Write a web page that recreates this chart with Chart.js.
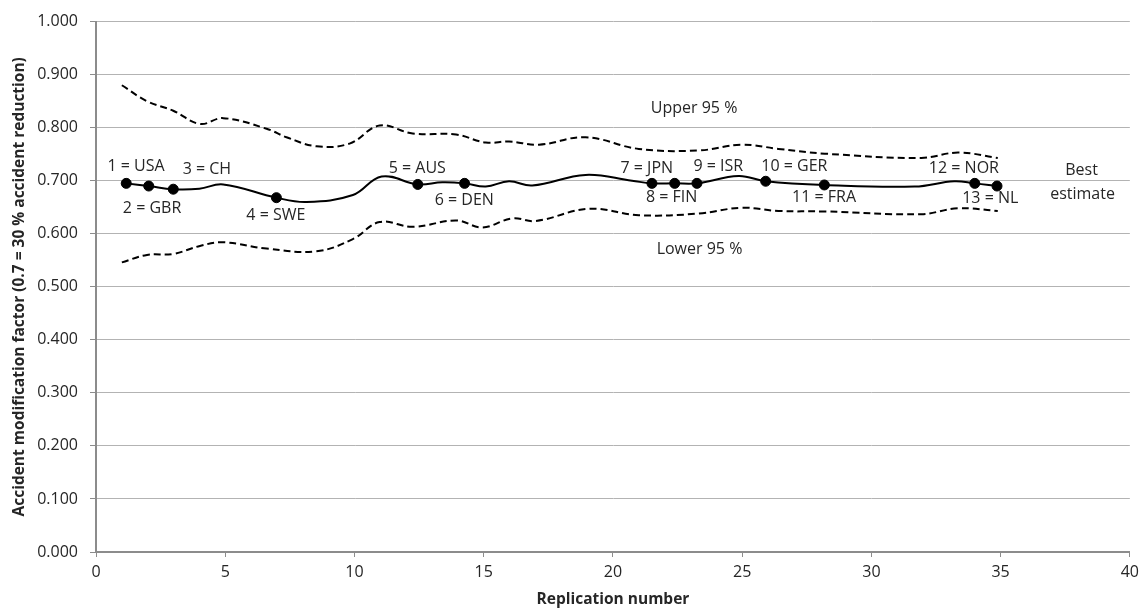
<!DOCTYPE html>
<html>
<head>
<meta charset="utf-8">
<script src="https://cdn.jsdelivr.net/npm/chart.js@4.4.1/dist/chart.umd.min.js"></script>
<style>
html,body{margin:0;padding:0;background:#fff;}
#wrap{width:1145px;height:609px;position:relative;}
</style>
</head>
<body>
<div id="wrap"><canvas id="c" width="1145" height="609"></canvas></div>
<script>
// Best estimate curve (smoothed)
const bestX = [1.17, 2.04, 2.99, 4.0, 4.92, 6.98, 8.14, 9.94, 11.05, 12.45, 13.4, 14.26, 15.08, 15.98, 16.88, 18.94, 20.74, 21.51, 22.39, 23.25, 24.86, 25.91, 28.18, 31.67, 33.2, 34.0, 34.86];
const bestY = [0.695, 0.690, 0.684, 0.685, 0.693, 0.668, 0.660, 0.673, 0.708, 0.693, 0.697, 0.695, 0.689, 0.699, 0.691, 0.711, 0.700, 0.695, 0.695, 0.695, 0.709, 0.699, 0.692, 0.689, 0.699, 0.695, 0.690];

// Country markers
const countryNames = ["1 = USA", "2 = GBR", "3 = CH", "4 = SWE", "5 = AUS", "6 = DEN", "7 = JPN", "8 = FIN", "9 = ISR", "10 = GER", "11 = FRA", "12 = NOR", "13 = NL"];
const countryX = [1.17, 2.04, 2.99, 6.98, 12.45, 14.26, 21.51, 22.39, 23.25, 25.91, 28.18, 34.0, 34.86];
const countryY = [0.695, 0.690, 0.684, 0.668, 0.693, 0.695, 0.695, 0.695, 0.695, 0.699, 0.692, 0.695, 0.690];

// Upper 95 %
const upperX = [1.0, 1.97, 2.99, 4.02, 4.92, 6.6, 7.37, 8.53, 9.81, 10.97, 12.25, 13.93, 15.08, 15.98, 17.14, 18.94, 21.0, 23.31, 24.98, 26.4, 28.2, 31.93, 33.35, 34.89];
const upperY = [0.880, 0.850, 0.832, 0.807, 0.818, 0.798, 0.782, 0.765, 0.770, 0.804, 0.789, 0.787, 0.772, 0.774, 0.768, 0.782, 0.760, 0.757, 0.768, 0.760, 0.751, 0.743, 0.753, 0.743];

// Lower 95 %
const lowerX = [1.0, 1.97, 2.99, 4.02, 4.92, 6.6, 8.53, 9.94, 10.97, 12.25, 13.93, 14.95, 16.11, 17.01, 19.07, 21.0, 23.31, 24.98, 26.4, 28.2, 31.93, 33.35, 34.89];
const lowerY = [0.546, 0.560, 0.562, 0.577, 0.584, 0.572, 0.567, 0.590, 0.622, 0.613, 0.625, 0.612, 0.629, 0.624, 0.647, 0.635, 0.638, 0.649, 0.643, 0.642, 0.637, 0.648, 0.643];

// Text labels placed in data coordinates
const noteText = ["1 = USA", "2 = GBR", "3 = CH", "4 = SWE", "5 = AUS", "6 = DEN", "7 = JPN", "8 = FIN", "9 = ISR", "10 = GER", "11 = FRA", "12 = NOR", "13 = NL", "Best", "estimate", "Upper 95 %", "Lower 95 %"];
const noteX = [1.55, 2.17, 4.29, 6.96, 12.43, 14.25, 21.31, 22.27, 24.08, 27.02, 28.17, 33.58, 34.6, 38.13, 38.17, 23.14, 23.35];
const noteY = [0.726, 0.648, 0.721, 0.634, 0.724, 0.662, 0.724, 0.668, 0.727, 0.727, 0.668, 0.724, 0.666, 0.719, 0.675, 0.837, 0.570];

const xTitle = "Replication number";
const yTitle = "Accident modification factor (0.7 = 30 % accident reduction)";

const FONT = "'Open Sans', 'DejaVu Sans', sans-serif";
const TXT = '#262626';

const zip = (xs, ys) => xs.map((x, i) => ({x: x, y: ys[i]}));

const notesPlugin = {
  id: 'notes',
  afterDatasetsDraw(chart) {
    const ctx = chart.ctx;
    const xs = chart.scales.x, ys = chart.scales.y;
    ctx.save();
    ctx.font = "16px " + FONT;
    ctx.fillStyle = TXT;
    ctx.textAlign = 'center';
    ctx.textBaseline = 'middle';
    noteText.forEach((t, i) => {
      ctx.fillText(t, xs.getPixelForValue(noteX[i]), ys.getPixelForValue(noteY[i]));
    });
    ctx.restore();
  }
};

new Chart(document.getElementById('c'), {
  type: 'line',
  data: {
    datasets: [
      {
        label: 'Best estimate',
        data: zip(bestX, bestY),
        borderColor: '#000',
        borderWidth: 2,
        pointRadius: 0,
        tension: 0.4,
        fill: false
      },
      {
        label: 'Countries',
        data: zip(countryX, countryY),
        showLine: false,
        pointRadius: 5,
        pointBackgroundColor: '#000',
        pointBorderColor: '#000',
        borderColor: '#000'
      },
      {
        label: 'Upper 95 %',
        data: zip(upperX, upperY),
        borderColor: '#000',
        borderWidth: 2,
        borderDash: [7, 4],
        pointRadius: 0,
        tension: 0.4,
        fill: false
      },
      {
        label: 'Lower 95 %',
        data: zip(lowerX, lowerY),
        borderColor: '#000',
        borderWidth: 2,
        borderDash: [7, 4],
        pointRadius: 0,
        tension: 0.4,
        fill: false
      }
    ]
  },
  options: {
    responsive: false,
    animation: false,
    events: [],
    layout: { padding: { left: 0, right: 14, top: 19, bottom: 0 } },
    plugins: {
      legend: { display: false },
      tooltip: { enabled: false }
    },
    scales: {
      x: {
        type: 'linear',
        min: 0, max: 40,
        afterFit(s) { s.height = 57; },
        ticks: {
          stepSize: 5,
          padding: 6,
          color: TXT,
          font: { family: FONT, size: 16 }
        },
        grid: {
          drawOnChartArea: false,
          drawTicks: true,
          tickLength: 5,
          color: '#8c8c8c',
          tickColor: '#8c8c8c'
        },
        border: { color: '#8c8c8c', width: 2 },
        title: {
          display: true,
          text: xTitle,
          color: TXT,
          font: { family: FONT, size: 15.5, weight: 'bold' },
          padding: { top: 0, bottom: 0 }
        }
      },
      y: {
        type: 'linear',
        min: 0, max: 1,
        afterFit(s) { s.width = 96; },
        ticks: {
          stepSize: 0.1,
          padding: 12,
          color: TXT,
          font: { family: FONT, size: 16 },
          callback: v => Number(v).toFixed(3)
        },
        grid: {
          color: '#b3b3b3',
          lineWidth: 1,
          tickLength: 6,
          tickColor: '#8c8c8c'
        },
        border: { color: '#8c8c8c', width: 2 },
        title: {
          display: true,
          text: yTitle,
          color: TXT,
          font: { family: FONT, size: 15.5, weight: 'bold' },
          padding: { top: 10, bottom: 0 }
        }
      }
    }
  },
  plugins: [notesPlugin]
});
</script>
</body>
</html>
